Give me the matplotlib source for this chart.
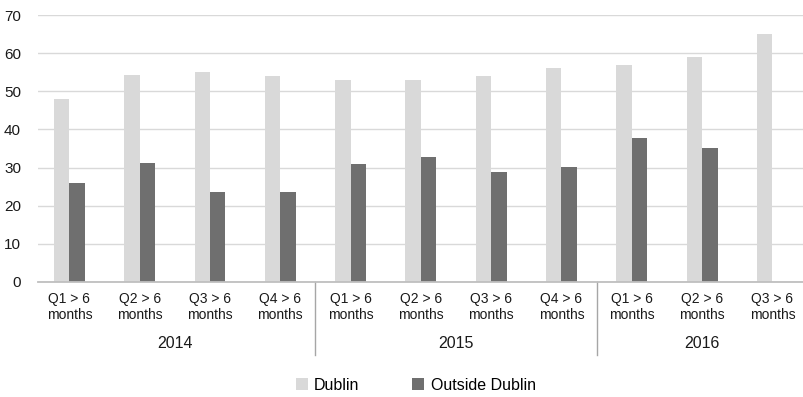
import numpy as np
import matplotlib
matplotlib.use("Agg")
import matplotlib.pyplot as plt
import matplotlib.transforms as mtransforms

plt.rcParams['font.family'] = ['Liberation Sans', 'DejaVu Sans']

QUARTERS = ["Q1 > 6\nmonths", "Q2 > 6\nmonths", "Q3 > 6\nmonths", "Q4 > 6\nmonths",
            "Q1 > 6\nmonths", "Q2 > 6\nmonths", "Q3 > 6\nmonths", "Q4 > 6\nmonths",
            "Q1 > 6\nmonths", "Q2 > 6\nmonths", "Q3 > 6\nmonths"]
YEARS = ["2014", "2015", "2016"]
YEAR_SIZES = [4, 4, 3]
DUBLIN = [48.0, 54.3, 55.1, 54.1, 53.0, 53.0, 54.1, 56.2, 57.0, 59.1, 65.1]
OUTSIDE = [26.0, 31.2, 23.6, 23.6, 31.0, 32.8, 28.9, 30.2, 37.8, 35.2, np.nan]

C_DUB = "#d9d9d9"
C_OUT = "#6f6f6f"

fig = plt.figure(figsize=(8.04, 3.97), dpi=100)
ax = fig.add_axes([0.047, 0.29, 0.953, 0.672])

x = np.arange(len(QUARTERS))
w = 0.22
ax.bar(x - w / 2, DUBLIN, w, color=C_DUB, label="Dublin", zorder=1)
ax.bar(x + w / 2, OUTSIDE, w, color=C_OUT, label="Outside Dublin", zorder=1)

ax.set_ylim(0, 70)
ax.set_yticks(range(0, 71, 10))
ax.set_xlim(-0.45, 10.45)
ax.grid(axis="y", color="#d9d9d9", linewidth=1, zorder=0)
ax.set_axisbelow(True)
for s in ["top", "right", "left"]:
    ax.spines[s].set_visible(False)
ax.spines["bottom"].set_color("#bfbfbf")
ax.spines["bottom"].set_linewidth(1.3)
ax.tick_params(axis="y", length=0, pad=12, labelsize=11, labelcolor="#1a1a1a")
ax.tick_params(axis="x", length=0, pad=7, labelsize=10, labelcolor="#1a1a1a")
ax.set_xticks(x)
ax.set_xticklabels(QUARTERS, linespacing=1.2)

# year level of the axis
trans = mtransforms.blended_transform_factory(ax.transData, ax.transAxes)
start = 0
for i, (yr, n) in enumerate(zip(YEARS, YEAR_SIZES)):
    ax.text(start + (n - 1) / 2, -0.232, yr, transform=trans, ha="center",
            va="center", fontsize=11.5, color="#1a1a1a")
    if i > 0:
        ax.plot([start - 0.5, start - 0.5], [0, -0.275], transform=trans,
                color="#a6a6a6", linewidth=1, clip_on=False)
    start += n

fig.legend(loc="center", bbox_to_anchor=(0.517, 0.03), ncol=2, frameon=False,
           fontsize=11.5, handlelength=0.75, handleheight=0.75,
           handletextpad=0.4, columnspacing=3.3)

fig.savefig("out.png", dpi=100)
